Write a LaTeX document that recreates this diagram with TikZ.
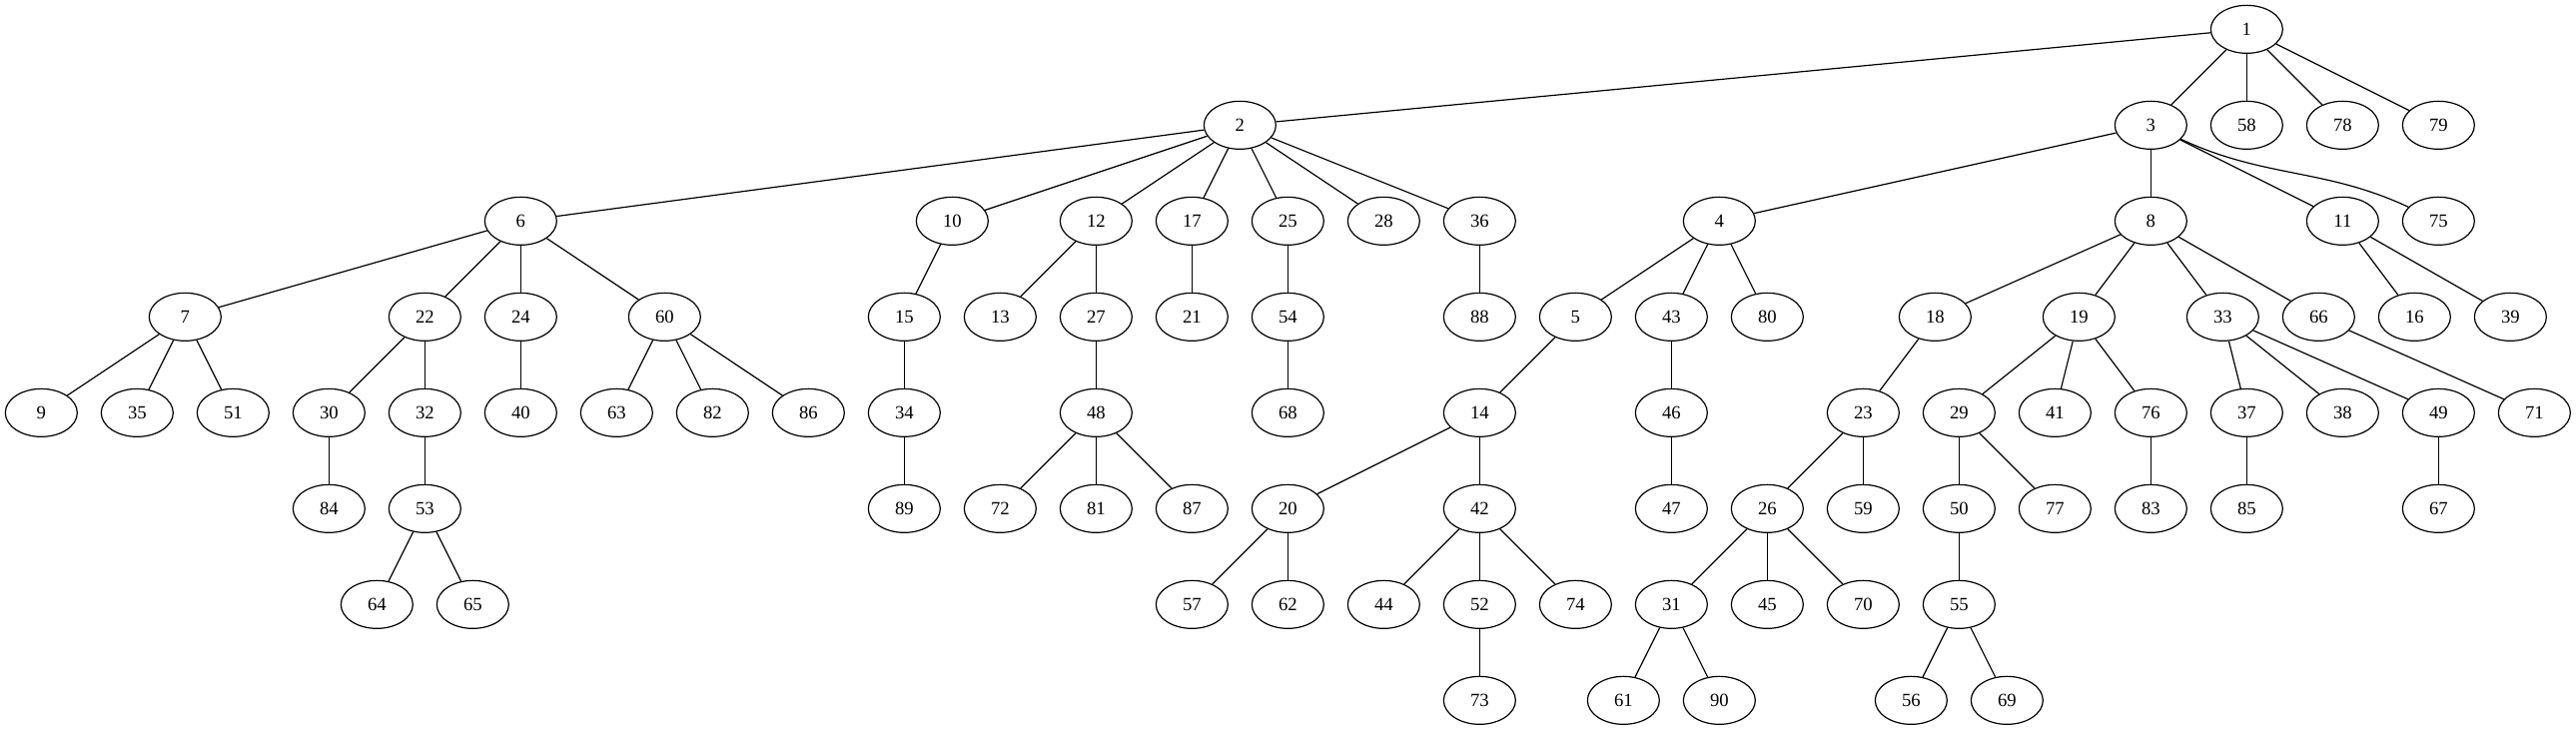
\documentclass[tikz,border=0pt]{standalone}
\usepackage{fontspec}
\setmainfont{Liberation Serif}
\usetikzlibrary{shapes.geometric}
\tikzset{vertex/.style={draw, ellipse, minimum width=54pt, minimum height=36pt, inner sep=0pt, font=\fontsize{14}{16}\selectfont}}
\begin{document}
\begin{tikzpicture}[x=72pt, y=72pt, line width=0.9pt]
\useasboundingbox (-0.4306,0.3056) rectangle (26.434,-7.3056);
% level 0 and 1
\node[vertex] (n1) at (23,0) {1};
\node[vertex] (n2) at (12.5,-1) {2};
\node[vertex] (n3) at (22,-1) {3};
\node[vertex] (n58) at (23,-1) {58};
\node[vertex] (n78) at (24,-1) {78};
\node[vertex] (n79) at (25,-1) {79};
% level 2
\node[vertex] (n6) at (5,-2) {6};
\node[vertex] (n10) at (9.5,-2) {10};
\node[vertex] (n12) at (11,-2) {12};
\node[vertex] (n17) at (12,-2) {17};
\node[vertex] (n25) at (13,-2) {25};
\node[vertex] (n28) at (14,-2) {28};
\node[vertex] (n36) at (15,-2) {36};
\node[vertex] (n4) at (17.5,-2) {4};
\node[vertex] (n8) at (22,-2) {8};
\node[vertex] (n11) at (24,-2) {11};
\node[vertex] (n75) at (25,-2) {75};
% level 3
\node[vertex] (n7) at (1.5,-3) {7};
\node[vertex] (n22) at (4,-3) {22};
\node[vertex] (n24) at (5,-3) {24};
\node[vertex] (n60) at (6.5,-3) {60};
\node[vertex] (n15) at (9,-3) {15};
\node[vertex] (n13) at (10,-3) {13};
\node[vertex] (n27) at (11,-3) {27};
\node[vertex] (n21) at (12,-3) {21};
\node[vertex] (n54) at (13,-3) {54};
\node[vertex] (n88) at (15,-3) {88};
\node[vertex] (n5) at (16,-3) {5};
\node[vertex] (n43) at (17,-3) {43};
\node[vertex] (n80) at (18,-3) {80};
\node[vertex] (n18) at (19.75,-3) {18};
\node[vertex] (n19) at (21.25,-3) {19};
\node[vertex] (n33) at (22.75,-3) {33};
\node[vertex] (n66) at (23.75,-3) {66};
\node[vertex] (n16) at (24.75,-3) {16};
\node[vertex] (n39) at (25.75,-3) {39};
% level 4
\node[vertex] (n9) at (0,-4) {9};
\node[vertex] (n35) at (1,-4) {35};
\node[vertex] (n51) at (2,-4) {51};
\node[vertex] (n30) at (3,-4) {30};
\node[vertex] (n32) at (4,-4) {32};
\node[vertex] (n40) at (5,-4) {40};
\node[vertex] (n63) at (6,-4) {63};
\node[vertex] (n82) at (7,-4) {82};
\node[vertex] (n86) at (8,-4) {86};
\node[vertex] (n34) at (9,-4) {34};
\node[vertex] (n48) at (11,-4) {48};
\node[vertex] (n68) at (13,-4) {68};
\node[vertex] (n14) at (15,-4) {14};
\node[vertex] (n46) at (17,-4) {46};
\node[vertex] (n23) at (19,-4) {23};
\node[vertex] (n29) at (20,-4) {29};
\node[vertex] (n41) at (21,-4) {41};
\node[vertex] (n76) at (22,-4) {76};
\node[vertex] (n37) at (23,-4) {37};
\node[vertex] (n38) at (24,-4) {38};
\node[vertex] (n49) at (25,-4) {49};
\node[vertex] (n71) at (26,-4) {71};
% level 5
\node[vertex] (n84) at (3,-5) {84};
\node[vertex] (n53) at (4,-5) {53};
\node[vertex] (n89) at (9,-5) {89};
\node[vertex] (n72) at (10,-5) {72};
\node[vertex] (n81) at (11,-5) {81};
\node[vertex] (n87) at (12,-5) {87};
\node[vertex] (n20) at (13,-5) {20};
\node[vertex] (n42) at (15,-5) {42};
\node[vertex] (n47) at (17,-5) {47};
\node[vertex] (n26) at (18,-5) {26};
\node[vertex] (n59) at (19,-5) {59};
\node[vertex] (n50) at (20,-5) {50};
\node[vertex] (n77) at (21,-5) {77};
\node[vertex] (n83) at (22,-5) {83};
\node[vertex] (n85) at (23,-5) {85};
\node[vertex] (n67) at (25,-5) {67};
% level 6
\node[vertex] (n64) at (3.5,-6) {64};
\node[vertex] (n65) at (4.5,-6) {65};
\node[vertex] (n57) at (12,-6) {57};
\node[vertex] (n62) at (13,-6) {62};
\node[vertex] (n44) at (14,-6) {44};
\node[vertex] (n52) at (15,-6) {52};
\node[vertex] (n74) at (16,-6) {74};
\node[vertex] (n31) at (17,-6) {31};
\node[vertex] (n45) at (18,-6) {45};
\node[vertex] (n70) at (19,-6) {70};
\node[vertex] (n55) at (20,-6) {55};
% level 7
\node[vertex] (n73) at (15,-7) {73};
\node[vertex] (n61) at (16.5,-7) {61};
\node[vertex] (n90) at (17.5,-7) {90};
\node[vertex] (n56) at (19.5,-7) {56};
\node[vertex] (n69) at (20.5,-7) {69};
% edges
\foreach \a/\b in {1/2,1/3,1/58,1/78,1/79,
  2/6,2/10,2/12,2/17,2/25,2/28,2/36,3/4,3/8,3/11,
  6/7,6/22,6/24,6/60,10/15,12/13,12/27,17/21,25/54,36/88,
  4/5,4/43,4/80,8/18,8/19,8/33,8/66,11/16,11/39,
  7/9,7/35,7/51,22/30,22/32,24/40,60/63,60/82,60/86,
  15/34,27/48,54/68,5/14,43/46,18/23,19/29,19/41,19/76,
  33/37,33/38,33/49,66/71,30/84,32/53,34/89,48/72,48/81,48/87,
  14/20,14/42,46/47,23/26,23/59,29/50,29/77,76/83,37/85,49/67,
  53/64,53/65,20/57,20/62,42/44,42/52,42/74,26/31,26/45,26/70,
  50/55,52/73,31/61,31/90,55/56,55/69}
  \draw (n\a) -- (n\b);
\draw (n3) to[out=-25,in=155] (n75);
\end{tikzpicture}
\end{document}
